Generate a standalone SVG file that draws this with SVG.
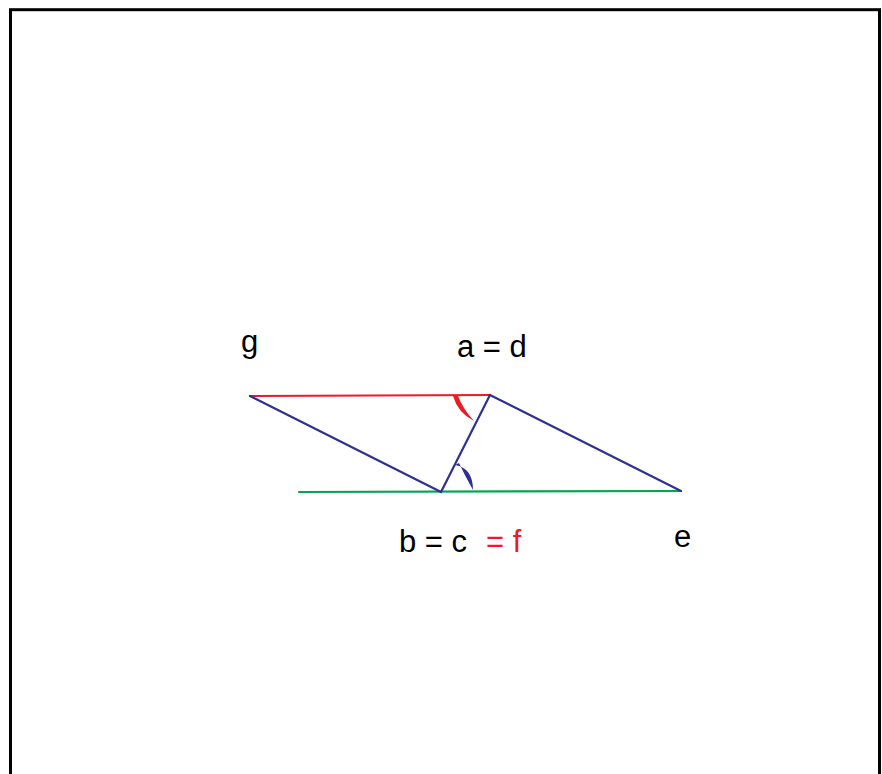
<svg xmlns="http://www.w3.org/2000/svg" width="882" height="774" viewBox="0 0 882 774">
<style>
.lbl{font-family:"Liberation Sans",Arial,sans-serif;font-size:31px;fill:#000}
.red{fill:#ed1c24}
.ln{stroke-width:2.2;fill:none;stroke-linecap:round}
</style>
<rect x="0" y="0" width="882" height="774" fill="#fff"/>
<rect x="10.5" y="9.7" width="869" height="820" fill="none" stroke="#000" stroke-width="3"/>
<g id="connectors">
<line class="ln" x1="299" y1="492" x2="681" y2="491" stroke="#00a651"/>
<line class="ln" x1="250" y1="396" x2="490" y2="395" stroke="#ed1c24"/>
<line class="ln" x1="250" y1="396" x2="441" y2="492" stroke="#2e3192"/>
<line class="ln" x1="441" y1="492" x2="490" y2="395" stroke="#2e3192"/>
<line class="ln" x1="490" y1="395" x2="681" y2="491" stroke="#2e3192"/>
<path d="M453,396 Q458,413 474,421 Q463,409 458,396 Z" fill="#ed1c24"/>
<path d="M455,465 Q473,468 473,490 Q465,476 459,463 Z" fill="#2e3192"/>
</g>
<g id="node-g"><text class="lbl" x="241" y="352">g</text></g>
<g id="node-ad"><text class="lbl" x="457" y="357">a = d</text></g>
<g id="node-bc"><text class="lbl" x="399" y="552">b = c</text><text class="lbl red" x="486" y="552">= f</text></g>
<g id="node-e"><text class="lbl" x="674" y="547">e</text></g>
</svg>
